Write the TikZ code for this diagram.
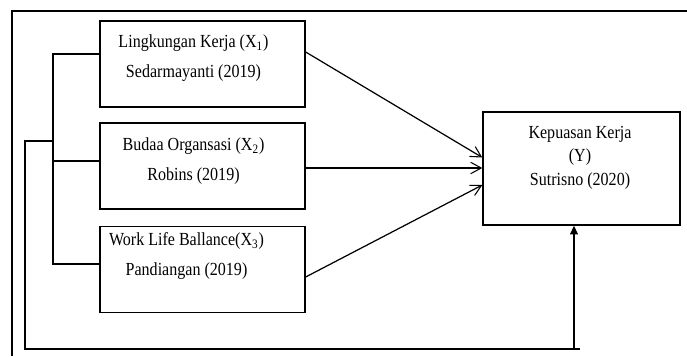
\documentclass[tikz,border=0pt]{standalone}
\usepackage{fontspec}
\setmainfont{Liberation Serif}[FakeStretch=0.87]
\usetikzlibrary{arrows.meta, positioning, calc}
\tikzset{
  ind/.style={draw, line width=0.8pt, minimum width=4.1cm, minimum height=1.72cm, inner sep=0pt},
  dep/.style={ind, minimum width=3.94cm, minimum height=2.26cm},
  lnk/.style={line width=0.7pt},
  tra/.style={lnk, -{Straight Barb[length=6pt, width=6.5pt, line width=0.6pt]}},
  upa/.style={lnk, -{Triangle[length=5pt, width=4.5pt]}},
  tlab/.style={align=center, inner sep=0pt, font=\fontsize{10.5}{17}\selectfont},
  ylab/.style={tlab, font=\fontsize{10.5}{13.3}\selectfont}
}

\begin{document}
\begin{tikzpicture}[x=0.02cm, y=-0.02cm]
		\useasboundingbox (0,0) rectangle (687,356);
		% frame
		\draw[lnk] (687,11) -- (12,11) -- (12,356);
		% variables
		\node[ind] (x1) at (202.5,64) {};
		\node[ind] (x2) at (202.5,166) {};
		\node[ind] (x3) at (202.5,269.5) {};
		\node[dep] (y) at (581.5,168.5) {};
		\node[tlab] (t1) at ($(x1)+(-9,-6)$) {Lingkungan Kerja (X\textsubscript{1})\\Sedarmayanti (2019)};
		\node[tlab] (t2) at ($(x2)+(-9,-5)$) {Budaa Organsasi (X\textsubscript{2})\\Robins (2019)};
		\node[tlab] (t3) at ($(x3)+(-16,-13.5)$) {Work Life Ballance(X\textsubscript{3})\\Pandiangan (2019)};
		\node[ylab] (ty) at ($(y)+(-1.5,-11)$) {Kepuasan Kerja\\(Y)\\Sutrisno (2020)};
		% bracket
		\coordinate (b1) at (53,54);
		\coordinate (b2) at (53,161);
		\coordinate (b3) at (53,264);
		\coordinate (j) at (25,141);
		\coordinate (k) at (574,349);
		\draw[lnk] (b1 -| x1.west) -- (b1) -- (b3) -- (b3 -| x3.west);
		\draw[lnk] (b2) -- (b2 -| x2.west);
		\draw[lnk] (b1 |- j) -- (j) |- ($(k)+(6,0)$);
		\draw[upa] (k) -- (k |- y.south);
		% arrows
		\draw[tra] ($(x1.east)+(0,-12)$) -- ($(y.west)+(0,-11)$);
		\draw[tra] ($(x2.east)+(0,2)$) -- ($(y.west)+(0,-0.5)$);
		\draw[tra] ($(x3.east)+(0,7.5)$) -- ($(y.west)+(0,16.5)$);
	\end{tikzpicture}
\end{document}
